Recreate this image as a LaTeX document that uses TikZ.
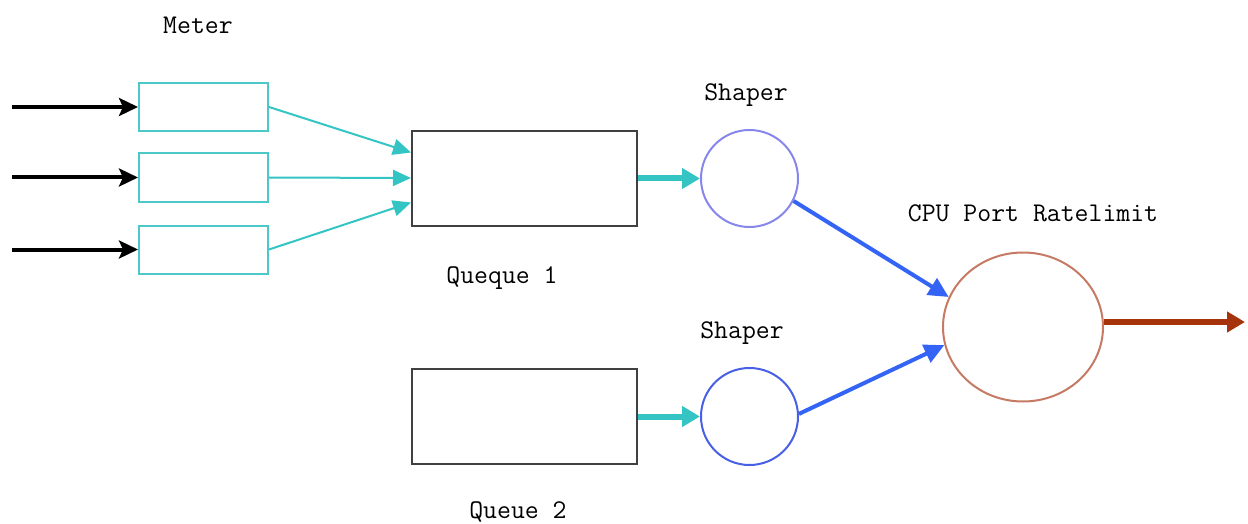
\documentclass[tikz,border=0pt]{standalone}
\usetikzlibrary{arrows.meta,positioning,calc,shapes.geometric}
\definecolor{metercyan}{RGB}{76,200,200}
\definecolor{flowcyan}{RGB}{52,196,196}
\definecolor{shaperlight}{RGB}{135,135,235}
\definecolor{shaperblue}{RGB}{72,96,228}
\definecolor{linkblue}{RGB}{52,100,245}
\definecolor{cpubrown}{RGB}{198,122,100}
\definecolor{outbrown}{RGB}{165,52,12}

\begin{document}
\begin{tikzpicture}[
  x=0.5pt, y=-0.5pt,
  meter/.style={draw=metercyan, line width=1pt, minimum width=64.5pt, minimum height=24pt, inner sep=0pt},
  queue/.style={draw=black!75, line width=1pt, minimum width=112.5pt, minimum height=47.5pt, inner sep=0pt},
  shaper/.style={circle, line width=1pt, minimum size=48.5pt, inner sep=0pt},
  lbl/.style={font=\ttfamily\fontsize{13.5}{15}\selectfont, inner sep=0pt},
  inarr/.style={-{Stealth[length=9.5pt, width=9pt, inset=2pt]}, line width=2pt, color=black},
  feed/.style={-{Triangle[length=9pt, width=8pt]}, line width=1pt, color=flowcyan},
  pass/.style={-{Triangle[length=9pt, width=10pt]}, line width=3pt, color=flowcyan},
  link/.style={-{Triangle[length=10pt, width=9.5pt]}, line width=2pt, color=linkblue},
  outarr/.style={-{Triangle[length=9pt, width=10pt]}, line width=3pt, color=outbrown},
]
  \useasboundingbox (0,0) rectangle (1248,524);

  % meters
  \node[meter] (m1) at (203.5,107) {};
  \node[meter] (m2) at (203.5,177.5) {};
  \node[meter] (m3) at (203.5,249.5) {};
  \node[lbl] (tmeter) at (198,25) {Meter};

  \coordinate (in1) at (12,107);
  \coordinate (in2) at (12,177.5);
  \coordinate (in3) at (12,249.5);

  % queues
  \node[queue] (q1) at (524.5,178.5) {};
  \node[queue] (q2) at (524.5,416.5) {};
  \node[lbl] (tq1) at (502,278) {Queque 1};
  \node[lbl] (tq2) at (518,512) {Queue 2};

  % shapers
  \node[shaper, draw=shaperlight] (sh1) at (749.5,178.5) {};
  \node[shaper, draw=shaperblue] (sh2) at (749.5,416.5) {};
  \node[lbl] (tsh1) at (746,95) {Shaper};
  \node[lbl] (tsh2) at (742,333) {Shaper};

  % cpu port
  \node[ellipse, draw=cpubrown, line width=1pt, minimum width=80pt, minimum height=74.5pt, inner sep=0pt] (cpu) at (1023,327) {};
  \node[lbl] (tcpu) at (1033,213) {CPU Port Ratelimit};
  \coordinate (out) at (1245,322);

  \draw[inarr] (in1) -- (m1.west);
  \draw[inarr] (in2) -- (m2.west);
  \draw[inarr] (in3) -- (m3.west);

  \draw[feed] (m1.east) -- ($(q1.west)+(0,-26)$);
  \draw[feed] (m2.east) -- ($(q1.west)+(0,-0.5)$);
  \draw[feed] (m3.east) -- ($(q1.west)+(0,24)$);

  \draw[pass] (q1.east) -- (sh1.west);
  \draw[pass] (q2.east) -- (sh2.west);

  \draw[link] (sh1.-27) -- (cpu.158);
  \draw[link] (sh2.3) -- (cpu.193);

  \draw[outarr] ($(cpu.east)+(0,-5)$) -- (out);
\end{tikzpicture}
\end{document}
